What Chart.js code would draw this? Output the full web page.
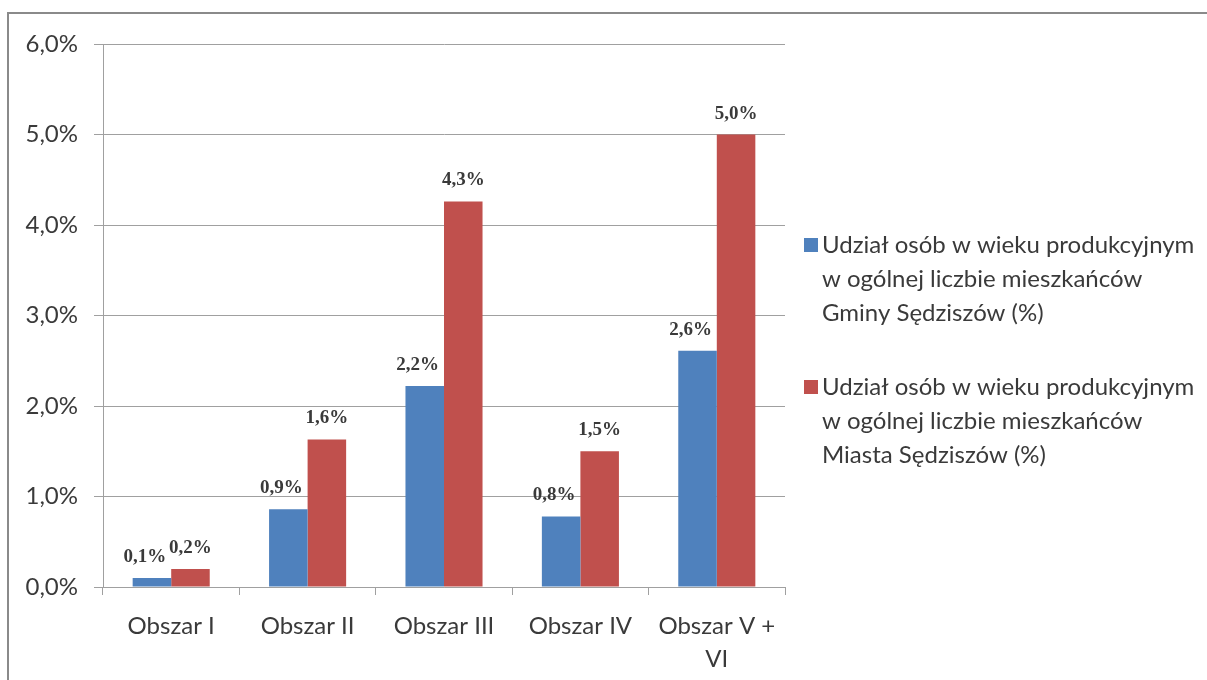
<!DOCTYPE html>
<html>
<head>
<meta charset="utf-8">
<script src="https://cdn.jsdelivr.net/npm/chart.js@4/dist/chart.umd.min.js"></script>
<style>
  html, body { margin: 0; padding: 0; background: #fff; }
  #wrap { position: relative; width: 1207px; height: 680px; }
</style>
</head>
<body>
<div id="wrap"><canvas id="chart" width="1207" height="680"></canvas></div>
<script>
// categories and series
var categories = ['Obszar I', 'Obszar II', 'Obszar III', 'Obszar IV', ['Obszar V +', 'VI']];
var gminaValues = [0.1, 0.86, 2.22, 0.78, 2.61];
var miastoValues = [0.2, 1.63, 4.26, 1.5, 5.0];
var seriesNames = [
    'Udział osób w wieku produkcyjnym w ogólnej liczbie mieszkańców Gminy Sędziszów (%)',
    'Udział osób w wieku produkcyjnym w ogólnej liczbie mieszkańców Miasta Sędziszów (%)'
];
var legendLines = [
    ['Udział osób w wieku produkcyjnym', 'w ogólnej liczbie mieszkańców', 'Gminy Sędziszów (%)'],
    ['Udział osób w wieku produkcyjnym', 'w ogólnej liczbie mieszkańców', 'Miasta Sędziszów (%)']
];
var yTicks = [0, 1, 2, 3, 4, 5, 6];

var BLUE = '#4f81bd';
var RED = '#c0504d';
var TEXT = '#3a3a3a';
var SANS = 'Lato, "Noto Sans", sans-serif';

function pct(v) {
    return v.toFixed(1).replace('.', ',') + '%';
}

var extras = {
    id: 'extras',
    beforeDraw(chart) {
        var ctx = chart.ctx;
        ctx.save();
        ctx.fillStyle = '#fff';
        ctx.fillRect(0, 0, chart.width, chart.height);
        ctx.strokeStyle = '#8a8a8a';
        ctx.lineWidth = 2;
        ctx.beginPath();
        ctx.moveTo(8, 680);
        ctx.lineTo(8, 13);
        ctx.lineTo(1207, 13);
        ctx.stroke();
        ctx.restore();
    },
    afterDatasetsDraw(chart) {
        var ctx = chart.ctx;
        ctx.save();
        ctx.font = 'bold 19px "Liberation Serif", serif';
        ctx.fillStyle = TEXT;
        ctx.textAlign = 'center';
        ctx.textBaseline = 'alphabetic';
        // blue labels sit a little left of their bars in the original
        var shift = [-7, 0];
        chart.data.datasets.forEach(function (ds, i) {
            chart.getDatasetMeta(i).data.forEach(function (bar, j) {
                ctx.fillText(pct(ds.data[j]), bar.x + shift[i], bar.y - 16);
            });
        });

        // legend
        var x = chart.chartArea.right + 19;
        var tops = [245, 387];
        ctx.font = '24px ' + SANS;
        ctx.textAlign = 'left';
        ctx.textBaseline = 'middle';
        chart.data.datasets.forEach(function (ds, i) {
            ctx.fillStyle = ds.backgroundColor;
            ctx.fillRect(x, tops[i] - 7, 14, 14);
            ctx.fillStyle = TEXT;
            legendLines[i].forEach(function (line, k) {
                ctx.fillText(line, x + 18, tops[i] + k * 34);
            });
        });
        ctx.restore();
    }
};

new Chart(document.getElementById('chart'), {
    type: 'bar',
    data: {
        labels: categories,
        datasets: [
            { label: seriesNames[0], data: gminaValues, backgroundColor: BLUE },
            { label: seriesNames[1], data: miastoValues, backgroundColor: RED }
        ]
    },
    options: {
        responsive: false,
        animation: false,
        layout: { padding: { left: 0, right: 422, top: 44, bottom: 0 } },
        datasets: { bar: { categoryPercentage: 0.565, barPercentage: 1 } },
        plugins: {
            legend: { display: false },
            tooltip: { enabled: false }
        },
        scales: {
            x: {
                grid: { drawOnChartArea: false, drawTicks: true, tickLength: 8, color: '#a0a0a0', offset: true },
                border: { color: '#a0a0a0' },
                ticks: { color: TEXT, font: { family: SANS, size: 24, lineHeight: 1.38 }, padding: 15, maxRotation: 0 },
                afterFit(s) { s.height = 93; }
            },
            y: {
                min: 0,
                max: 6,
                afterBuildTicks(s) { s.ticks = yTicks.map(function (v) { return { value: v }; }); },
                grid: { color: '#a0a0a0', tickLength: 9 },
                border: { color: '#a0a0a0' },
                ticks: {
                    color: TEXT,
                    font: { family: SANS, size: 24 },
                    padding: 16,
                    callback: function (v) { return pct(v); }
                },
                afterFit(s) { s.width = 103; }
            }
        }
    },
    plugins: [extras]
});
</script>
</body>
</html>
